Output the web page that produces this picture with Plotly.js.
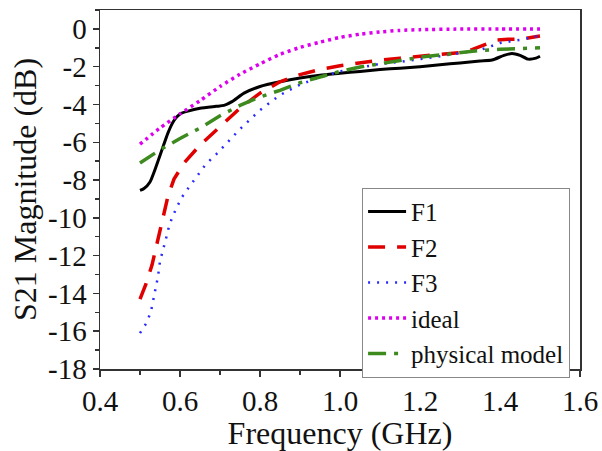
<!DOCTYPE html>
<html>
<head>
<meta charset="utf-8">
<script src="https://cdn.plot.ly/plotly-3.0.1.min.js"></script>
<style>html,body{margin:0;padding:0;background:#fff;}#chart{width:602px;height:451px;}</style>
</head>
<body>
<div id="chart"></div>
<script>
// F1 (measured)
var f1Freq = [0.5,0.51,0.525,0.54,0.555,0.57,0.585,0.6,0.62,0.65,0.69,0.71,0.73,0.76,0.8,0.85,0.9,0.95,1.0,1.05,1.1,1.15,1.2,1.25,1.3,1.35,1.38,1.41,1.43,1.45,1.47,1.49,1.5];
var f1Val  = [-8.55,-8.45,-8.1,-7.3,-6.4,-5.5,-4.85,-4.5,-4.35,-4.2,-4.1,-4.05,-3.85,-3.4,-3.05,-2.8,-2.6,-2.45,-2.35,-2.25,-2.15,-2.08,-2.0,-1.9,-1.8,-1.7,-1.65,-1.4,-1.3,-1.4,-1.6,-1.55,-1.45];
// F2
var f2Freq = [0.5,0.515,0.53,0.54,0.55,0.56,0.57,0.585,0.61,0.65,0.7,0.75,0.8,0.85,0.9,0.95,1.0,1.05,1.1,1.15,1.2,1.25,1.3,1.33,1.36,1.39,1.42,1.45,1.5];
var f2Val  = [-14.3,-13.5,-12.5,-11.6,-10.6,-9.7,-8.85,-7.95,-7.1,-6.15,-5.15,-4.2,-3.4,-2.8,-2.42,-2.15,-1.95,-1.78,-1.65,-1.55,-1.45,-1.38,-1.25,-1.1,-0.85,-0.6,-0.55,-0.55,-0.38];
// F3
var f3Freq = [0.5,0.515,0.527,0.537,0.545,0.55,0.558,0.565,0.572,0.58,0.593,0.605,0.625,0.645,0.665,0.69,0.715,0.75,0.8,0.85,0.9,0.95,1.0,1.05,1.1,1.15,1.2,1.25,1.3,1.35,1.4,1.45,1.5];
var f3Val  = [-16.1,-15.6,-15.0,-14.0,-13.1,-12.3,-11.7,-11.1,-10.5,-10.0,-9.4,-8.9,-8.3,-7.7,-7.15,-6.65,-6.1,-5.3,-4.3,-3.5,-2.95,-2.55,-2.25,-2.05,-1.85,-1.75,-1.62,-1.45,-1.28,-1.12,-0.75,-0.58,-0.36];
// ideal
var idealFreq = [0.5,0.55,0.6,0.65,0.7,0.75,0.8,0.85,0.9,0.95,1.0,1.05,1.1,1.15,1.2,1.3,1.4,1.5];
var idealVal  = [-6.1,-5.25,-4.5,-3.8,-3.05,-2.4,-1.85,-1.35,-0.98,-0.7,-0.45,-0.28,-0.16,-0.08,-0.04,-0.01,0,0];
// physical model
var physFreq = [0.5,0.55,0.6,0.65,0.7,0.75,0.8,0.85,0.9,0.95,1.0,1.05,1.1,1.15,1.2,1.25,1.3,1.35,1.4,1.45,1.5];
var physVal  = [-7.1,-6.4,-5.8,-5.25,-4.6,-4.05,-3.6,-3.25,-2.85,-2.55,-2.25,-2.02,-1.85,-1.65,-1.5,-1.38,-1.25,-1.14,-1.08,-1.05,-1.0];

var xTickVals = [0.4,0.6,0.8,1.0,1.2,1.4,1.6];
var xTickText = ["0.4","0.6","0.8","1.0","1.2","1.4","1.6"];
var yTickVals = [0,-2,-4,-6,-8,-10,-12,-14,-16,-18];
var yTickText = ["0","-2","-4","-6","-8","-10","-12","-14","-16","-18"];

var serif = "Liberation Serif, Times New Roman, serif";

var traces = [
  {x: f1Freq, y: f1Val, name: "F1", mode: "lines", line: {color: "#000000", width: 3, shape: "spline", smoothing: 0.6}},
  {x: f2Freq, y: f2Val, name: "F2", mode: "lines", line: {color: "#e00000", width: 3.5, dash: "17px,12px"}},
  {x: f3Freq, y: f3Val, name: "F3", mode: "lines", line: {color: "#2a2aff", width: 2.5, dash: "2px,7px"}},
  {x: idealFreq, y: idealVal, name: "ideal", mode: "lines", line: {color: "#dd00ee", width: 3.5, dash: "3px,4px", shape: "spline", smoothing: 0.6}},
  {x: physFreq, y: physVal, name: "physical model", mode: "lines", line: {color: "#3d8a1f", width: 3.5, dash: "18px,8px,4px,8px"}}
];

var layout = {
  width: 602, height: 451,
  margin: {l: 100, r: 22, t: 10, b: 82},
  paper_bgcolor: "#fff", plot_bgcolor: "#fff",
  font: {family: serif, color: "#111", size: 29},
  showlegend: true,
  legend: {
    x: 0.546, y: 0.505, xanchor: "left", yanchor: "top",
    bgcolor: "#fff", bordercolor: "#888", borderwidth: 1,
    font: {family: serif, size: 25, color: "#111"},
    tracegroupgap: 0, itemwidth: 38,
    entrywidth: 168, entrywidthmode: "pixels"
  },
  xaxis: {
    range: [0.4, 1.6], tickmode: "array", tickvals: xTickVals, ticktext: xTickText,
    ticks: "outside", ticklen: 6, tickwidth: 1.5, tickcolor: "#333",
    minor: {dtick: 0.1, tick0: 0.4, ticks: "outside", ticklen: 4, tickwidth: 1.5, tickcolor: "#333"},
    showline: true, linecolor: "#333", linewidth: 1.5, mirror: true,
    showgrid: false, zeroline: false,
    tickfont: {family: serif, size: 29, color: "#111"},
    title: {text: "Frequency (GHz)", font: {family: serif, size: 32, color: "#111"}, standoff: 6}
  },
  yaxis: {
    range: [-18, 1], tickmode: "array", tickvals: yTickVals, ticktext: yTickText,
    ticks: "outside", ticklen: 6, tickwidth: 1.5, tickcolor: "#333",
    minor: {dtick: 1, tick0: 0, ticks: "outside", ticklen: 4, tickwidth: 1.5, tickcolor: "#333"},
    showline: true, linecolor: "#333", linewidth: 1.5, mirror: true,
    showgrid: false, zeroline: false,
    tickfont: {family: serif, size: 29, color: "#111"},
    title: {text: "S21 Magnitude (dB)", font: {family: serif, size: 32, color: "#111"}, standoff: 2}
  }
};

Plotly.newPlot("chart", traces, layout, {displayModeBar: false, staticPlot: true});
</script>
</body>
</html>
